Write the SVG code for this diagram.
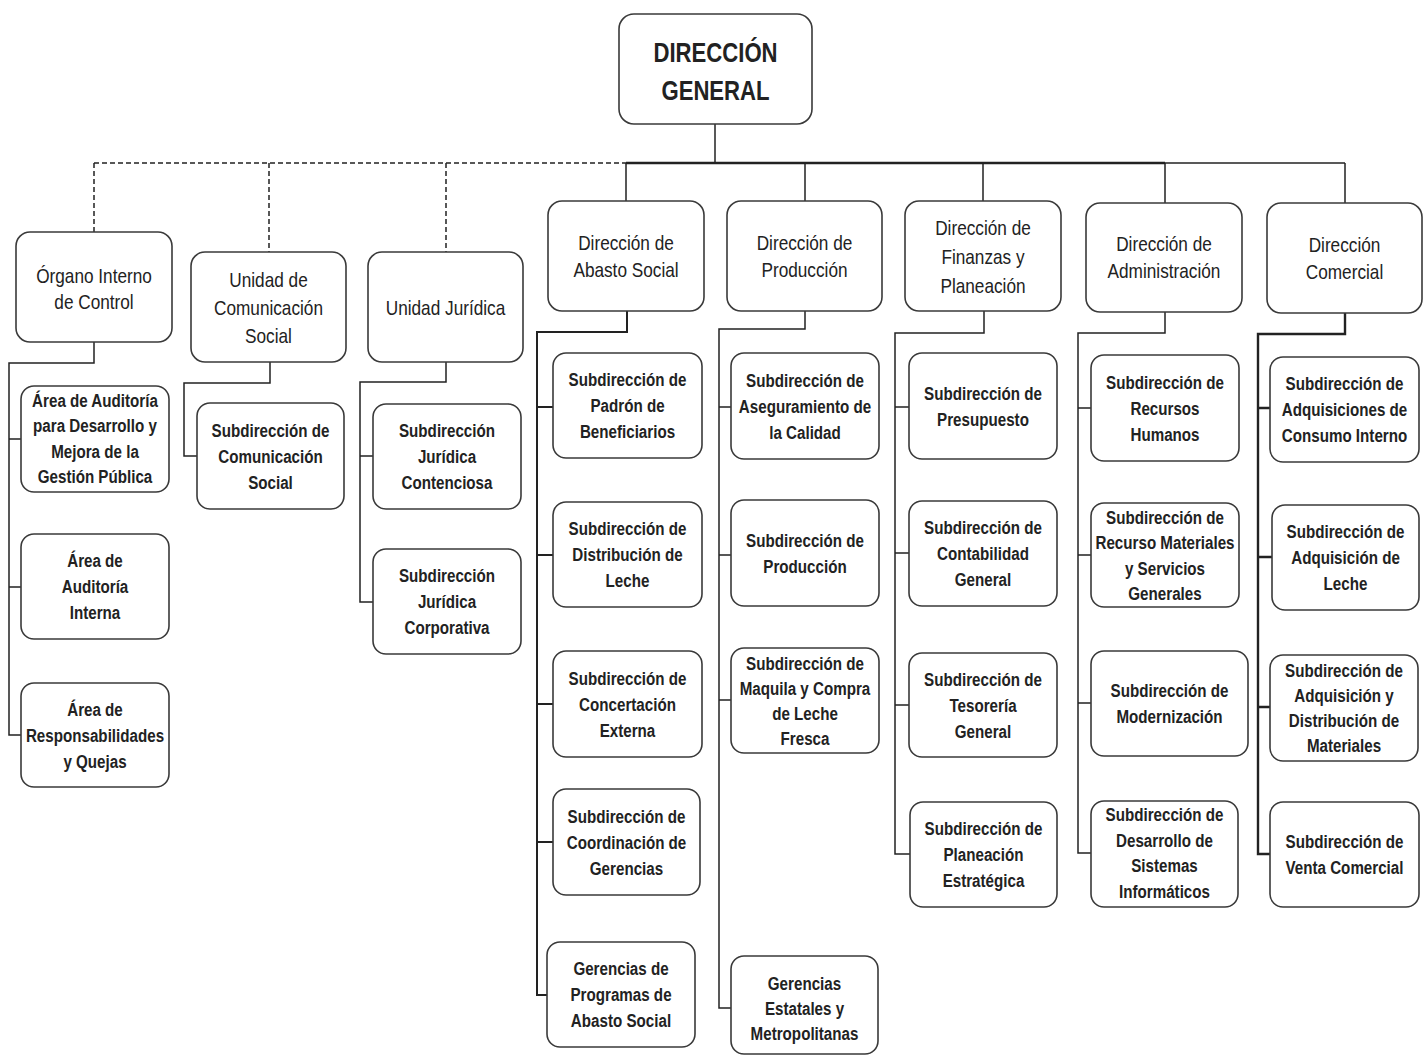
<svg xmlns="http://www.w3.org/2000/svg" width="1426" height="1055" viewBox="0 0 1426 1055">
<style>
.b{fill:#fff;stroke:#3a3a3a;stroke-width:1.6}
.t{font-family:"Liberation Sans",Arial,sans-serif;font-size:21px;fill:#222;text-anchor:middle}
.s{font-size:18.5px;font-weight:bold}
.h{font-size:27px;font-weight:bold}
.c{fill:none;stroke:#222;stroke-width:1.5}
.k{stroke-width:2.4}
.d{stroke-dasharray:5 3}
</style>
<rect width="1426" height="1055" fill="#fff"/>
<g id="connectors">
<path class="c" d="M715 124V163"/>
<path class="c k" d="M626 163H1165"/>
<path class="c" d="M1165 163H1345"/>
<path class="c d" d="M94 163H626"/>
<path class="c d" d="M94 163V232M269 163V252M446 163V252"/>
<path class="c" d="M626 163V201M805 163V201M983 163V201M1165 163V203M1345 163V203"/>
<path class="c" d="M94 342V363H9V735H21M9 439H21M9 587H21"/>
<path class="c" d="M270 362V383H184V456H197"/>
<path class="c" d="M446 362V382H360V602H373M360 456H373"/>
<path class="c" style="stroke-width:2" d="M627 311V332H537V995H547M537 407H553M537 555H553M537 704H553M537 842H553"/>
<path class="c" d="M805 311V329H719V1008H731M719 407H731M719 555H731M719 700H731"/>
<path class="c" d="M984 311V333H895V854H910M895 407H909M895 553H909M895 705H909"/>
<path class="c" d="M1165 312V333H1078V853H1091M1078 408H1091M1078 555H1091M1078 703H1091"/>
<path class="c k" d="M1345 313V334H1258V854H1270M1258 408H1270M1258 557H1272M1258 707H1270"/>
</g>
<g id="n-dg"><rect class="b" x="619" y="14" width="193" height="110" rx="15"/><text class="t h" transform="translate(715.5 0) scale(0.82 1)"><tspan x="0" y="62">DIRECCIÓN</tspan><tspan x="0" y="100">GENERAL</tspan></text></g>
<g id="n-oic"><rect class="b" x="16" y="232" width="156" height="110" rx="14"/><text class="t" transform="translate(94 0) scale(0.82 1)"><tspan x="0" y="283">Órgano Interno</tspan><tspan x="0" y="309">de Control</tspan></text></g>
<g id="n-ucs"><rect class="b" x="191" y="252" width="155" height="110" rx="14"/><text class="t" transform="translate(268.5 0) scale(0.82 1)"><tspan x="0" y="287">Unidad de</tspan><tspan x="0" y="315">Comunicación</tspan><tspan x="0" y="343">Social</tspan></text></g>
<g id="n-uj"><rect class="b" x="368" y="252" width="155" height="110" rx="14"/><text class="t" transform="translate(445.5 0) scale(0.82 1)"><tspan x="0" y="315">Unidad Jurídica</tspan></text></g>
<g id="n-das"><rect class="b" x="548" y="201" width="156" height="110" rx="14"/><text class="t" transform="translate(626 0) scale(0.82 1)"><tspan x="0" y="250">Dirección de</tspan><tspan x="0" y="277">Abasto Social</tspan></text></g>
<g id="n-dp"><rect class="b" x="727" y="201" width="155" height="110" rx="14"/><text class="t" transform="translate(804.5 0) scale(0.82 1)"><tspan x="0" y="250">Dirección de</tspan><tspan x="0" y="277">Producción</tspan></text></g>
<g id="n-dfp"><rect class="b" x="905" y="201" width="156" height="110" rx="14"/><text class="t" transform="translate(983 0) scale(0.82 1)"><tspan x="0" y="235">Dirección de</tspan><tspan x="0" y="264">Finanzas y</tspan><tspan x="0" y="293">Planeación</tspan></text></g>
<g id="n-da"><rect class="b" x="1086" y="203" width="156" height="109" rx="14"/><text class="t" transform="translate(1164 0) scale(0.82 1)"><tspan x="0" y="251">Dirección de</tspan><tspan x="0" y="278">Administración</tspan></text></g>
<g id="n-dc"><rect class="b" x="1267" y="203" width="155" height="110" rx="14"/><text class="t" transform="translate(1344.5 0) scale(0.82 1)"><tspan x="0" y="252">Dirección</tspan><tspan x="0" y="279">Comercial</tspan></text></g>

<g id="n-oic1"><rect class="b" x="21" y="386" width="148" height="106" rx="13"/><text class="t s" transform="translate(95 0) scale(0.82 1)"><tspan x="0" y="407">Área de Auditoría</tspan><tspan x="0" y="432.5">para Desarrollo y</tspan><tspan x="0" y="458">Mejora de la</tspan><tspan x="0" y="483.5">Gestión Pública</tspan></text></g>
<g id="n-oic2"><rect class="b" x="21" y="534" width="148" height="105" rx="13"/><text class="t s" transform="translate(95 0) scale(0.82 1)"><tspan x="0" y="567.5">Área de</tspan><tspan x="0" y="593.5">Auditoría</tspan><tspan x="0" y="619.5">Interna</tspan></text></g>
<g id="n-oic3"><rect class="b" x="21" y="683" width="148" height="104" rx="13"/><text class="t s" transform="translate(95 0) scale(0.82 1)"><tspan x="0" y="716">Área de</tspan><tspan x="0" y="742">Responsabilidades</tspan><tspan x="0" y="768">y Quejas</tspan></text></g>
<g id="n-ucs1"><rect class="b" x="197" y="403" width="147" height="106" rx="13"/><text class="t s" transform="translate(270.5 0) scale(0.82 1)"><tspan x="0" y="437">Subdirección de</tspan><tspan x="0" y="463">Comunicación</tspan><tspan x="0" y="489">Social</tspan></text></g>
<g id="n-uj1"><rect class="b" x="373" y="404" width="148" height="105" rx="13"/><text class="t s" transform="translate(447 0) scale(0.82 1)"><tspan x="0" y="437.5">Subdirección</tspan><tspan x="0" y="463.5">Jurídica</tspan><tspan x="0" y="489.5">Contenciosa</tspan></text></g>
<g id="n-uj2"><rect class="b" x="373" y="549" width="148" height="105" rx="13"/><text class="t s" transform="translate(447 0) scale(0.82 1)"><tspan x="0" y="582.5">Subdirección</tspan><tspan x="0" y="608.5">Jurídica</tspan><tspan x="0" y="634.5">Corporativa</tspan></text></g>

<g id="n-das1"><rect class="b" x="553" y="353" width="149" height="105" rx="13"/><text class="t s" transform="translate(627.5 0) scale(0.82 1)"><tspan x="0" y="386.5">Subdirección de</tspan><tspan x="0" y="412.5">Padrón de</tspan><tspan x="0" y="438.5">Beneficiarios</tspan></text></g>
<g id="n-das2"><rect class="b" x="553" y="502" width="149" height="105" rx="13"/><text class="t s" transform="translate(627.5 0) scale(0.82 1)"><tspan x="0" y="535.5">Subdirección de</tspan><tspan x="0" y="561.5">Distribución de</tspan><tspan x="0" y="587.5">Leche</tspan></text></g>
<g id="n-das3"><rect class="b" x="553" y="651" width="149" height="106" rx="13"/><text class="t s" transform="translate(627.5 0) scale(0.82 1)"><tspan x="0" y="685">Subdirección de</tspan><tspan x="0" y="711">Concertación</tspan><tspan x="0" y="737">Externa</tspan></text></g>
<g id="n-das4"><rect class="b" x="553" y="789" width="147" height="106" rx="13"/><text class="t s" transform="translate(626.5 0) scale(0.82 1)"><tspan x="0" y="823">Subdirección de</tspan><tspan x="0" y="849">Coordinación de</tspan><tspan x="0" y="875">Gerencias</tspan></text></g>
<g id="n-das5"><rect class="b" x="547" y="942" width="148" height="105" rx="13"/><text class="t s" transform="translate(621 0) scale(0.82 1)"><tspan x="0" y="975.5">Gerencias de</tspan><tspan x="0" y="1001.5">Programas de</tspan><tspan x="0" y="1027.5">Abasto Social</tspan></text></g>

<g id="n-dp1"><rect class="b" x="731" y="353" width="148" height="106" rx="13"/><text class="t s" transform="translate(805 0) scale(0.82 1)"><tspan x="0" y="387">Subdirección de</tspan><tspan x="0" y="413">Aseguramiento de</tspan><tspan x="0" y="439">la Calidad</tspan></text></g>
<g id="n-dp2"><rect class="b" x="731" y="500" width="148" height="106" rx="13"/><text class="t s" transform="translate(805 0) scale(0.82 1)"><tspan x="0" y="547">Subdirección de</tspan><tspan x="0" y="573">Producción</tspan></text></g>
<g id="n-dp3"><rect class="b" x="731" y="648" width="148" height="105" rx="13"/><text class="t s" transform="translate(805 0) scale(0.82 1)"><tspan x="0" y="670">Subdirección de</tspan><tspan x="0" y="695">Maquila y Compra</tspan><tspan x="0" y="720">de Leche</tspan><tspan x="0" y="745">Fresca</tspan></text></g>
<g id="n-dp4"><rect class="b" x="731" y="956" width="147" height="98" rx="13"/><text class="t s" transform="translate(804.5 0) scale(0.82 1)"><tspan x="0" y="990">Gerencias</tspan><tspan x="0" y="1015">Estatales y</tspan><tspan x="0" y="1040">Metropolitanas</tspan></text></g>

<g id="n-dfp1"><rect class="b" x="909" y="353" width="148" height="106" rx="13"/><text class="t s" transform="translate(983 0) scale(0.82 1)"><tspan x="0" y="400">Subdirección de</tspan><tspan x="0" y="426">Presupuesto</tspan></text></g>
<g id="n-dfp2"><rect class="b" x="909" y="501" width="148" height="105" rx="13"/><text class="t s" transform="translate(983 0) scale(0.82 1)"><tspan x="0" y="534.5">Subdirección de</tspan><tspan x="0" y="560.5">Contabilidad</tspan><tspan x="0" y="586.5">General</tspan></text></g>
<g id="n-dfp3"><rect class="b" x="909" y="653" width="148" height="104" rx="13"/><text class="t s" transform="translate(983 0) scale(0.82 1)"><tspan x="0" y="686">Subdirección de</tspan><tspan x="0" y="712">Tesorería</tspan><tspan x="0" y="738">General</tspan></text></g>
<g id="n-dfp4"><rect class="b" x="910" y="802" width="147" height="105" rx="13"/><text class="t s" transform="translate(983.5 0) scale(0.82 1)"><tspan x="0" y="835.5">Subdirección de</tspan><tspan x="0" y="861.5">Planeación</tspan><tspan x="0" y="887.5">Estratégica</tspan></text></g>

<g id="n-da1"><rect class="b" x="1091" y="355" width="148" height="106" rx="13"/><text class="t s" transform="translate(1165 0) scale(0.82 1)"><tspan x="0" y="389">Subdirección de</tspan><tspan x="0" y="415">Recursos</tspan><tspan x="0" y="441">Humanos</tspan></text></g>
<g id="n-da2"><rect class="b" x="1091" y="503" width="148" height="104" rx="13"/><text class="t s" transform="translate(1165 0) scale(0.82 1)"><tspan x="0" y="524">Subdirección de</tspan><tspan x="0" y="549">Recurso Materiales</tspan><tspan x="0" y="575">y Servicios</tspan><tspan x="0" y="600">Generales</tspan></text></g>
<g id="n-da3"><rect class="b" x="1091" y="651" width="157" height="105" rx="13"/><text class="t s" transform="translate(1169.5 0) scale(0.82 1)"><tspan x="0" y="697">Subdirección de</tspan><tspan x="0" y="723">Modernización</tspan></text></g>
<g id="n-da4"><rect class="b" x="1091" y="801" width="147" height="106" rx="13"/><text class="t s" transform="translate(1164.5 0) scale(0.82 1)"><tspan x="0" y="821">Subdirección de</tspan><tspan x="0" y="847">Desarrollo de</tspan><tspan x="0" y="872">Sistemas</tspan><tspan x="0" y="898">Informáticos</tspan></text></g>

<g id="n-dc1"><rect class="b" x="1270" y="357" width="149" height="105" rx="13"/><text class="t s" transform="translate(1344.5 0) scale(0.82 1)"><tspan x="0" y="390.5">Subdirección de</tspan><tspan x="0" y="416.5">Adquisiciones de</tspan><tspan x="0" y="442.5">Consumo Interno</tspan></text></g>
<g id="n-dc2"><rect class="b" x="1272" y="505" width="147" height="105" rx="13"/><text class="t s" transform="translate(1345.5 0) scale(0.82 1)"><tspan x="0" y="538.5">Subdirección de</tspan><tspan x="0" y="564.5">Adquisición de</tspan><tspan x="0" y="590.5">Leche</tspan></text></g>
<g id="n-dc3"><rect class="b" x="1270" y="655" width="148" height="106" rx="13"/><text class="t s" transform="translate(1344 0) scale(0.82 1)"><tspan x="0" y="677">Subdirección de</tspan><tspan x="0" y="702">Adquisición y</tspan><tspan x="0" y="727">Distribución de</tspan><tspan x="0" y="752">Materiales</tspan></text></g>
<g id="n-dc4"><rect class="b" x="1270" y="802" width="149" height="105" rx="13"/><text class="t s" transform="translate(1344.5 0) scale(0.82 1)"><tspan x="0" y="848">Subdirección de</tspan><tspan x="0" y="874">Venta Comercial</tspan></text></g>
</svg>
